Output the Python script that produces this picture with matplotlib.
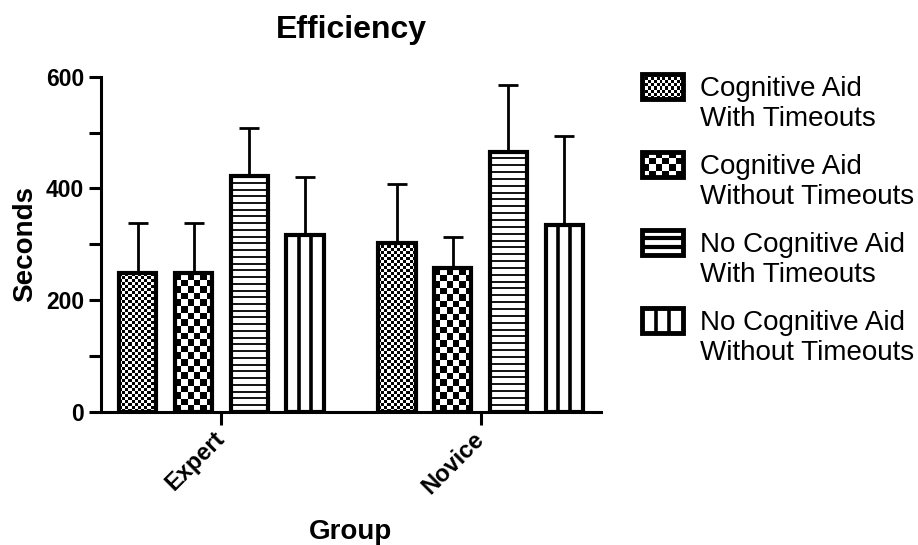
import numpy as np
import matplotlib
matplotlib.use("Agg")
from matplotlib import pyplot as plt
from matplotlib.patches import Rectangle

groups = ['Expert', 'Novice']
series = ['Cognitive Aid\nWith Timeouts', 'Cognitive Aid\nWithout Timeouts',
          'No Cognitive Aid\nWith Timeouts', 'No Cognitive Aid\nWithout Timeouts']
# mean seconds per group (Expert, Novice), one list per condition
ca_wt = [248, 303]
ca_wot = [248, 257]
nca_wt = [422, 466]
nca_wot = [317, 334]
# upper error (SD)
ca_wt_err = [90, 104]
ca_wot_err = [90, 56]
nca_wt_err = [87, 120]
nca_wot_err = [104, 160]

means = [ca_wt, ca_wot, nca_wt, nca_wot]
errors = [ca_wt_err, ca_wot_err, nca_wt_err, nca_wot_err]
patterns = ['fine', 'coarse', 'hlines', 'vlines']

plt.rcParams['font.family'] = ['Liberation Sans', 'DejaVu Sans']


def px_size(ax, x0, x1, y0, y1):
    (a, b), (c, d) = ax.transData.transform([(x0, y0), (x1, y1)])
    return abs(c - a), abs(d - b)


def fill_pattern(ax, kind, x0, x1, y0, y1, lw=1.3):
    w, h = px_size(ax, x0, x1, y0, y1)
    if kind in ('fine', 'coarse'):
        cell = 3.0 if kind == 'fine' else 6.5
        nx = max(1, int(round(w / cell)))
        ny = max(1, int(round(h / cell)))
        board = np.add.outer(np.arange(ny), np.arange(nx)) % 2
        ax.imshow(board, cmap='gray', interpolation='nearest', aspect='auto',
                  extent=(x0, x1, y0, y1), zorder=2)
    elif kind == 'hlines':
        n = max(2, int(h / 6.7))
        ys = np.linspace(y0, y1, n + 1)[1:-1]
        ax.hlines(ys, x0, x1, color='k', lw=lw, zorder=2)
    else:
        xs = [x0 + (x1 - x0) / 3, x0 + 2 * (x1 - x0) / 3]
        ax.vlines(xs, y0, y1, color='k', lw=2.6, zorder=2)


W, H = 918, 545
fig = plt.figure(figsize=(W / 100, H / 100), dpi=100)
ax = fig.add_axes([101 / W, 1 - 411.7 / H, 500 / W, 335 / H])
ax.set_xlim(-0.465, 1.465)
ax.set_ylim(0, 600)

x = np.arange(len(groups))
step = 0.215
width = 0.143
for i, (vals, errs, kind) in enumerate(zip(means, errors, patterns)):
    xs = x + (i - 1.5) * step
    for xc, v in zip(xs, vals):
        fill_pattern(ax, kind, xc - width / 2, xc + width / 2, 0, v)
    ax.bar(xs, vals, width, facecolor='none', edgecolor='k', linewidth=3, zorder=3)
    eb = ax.errorbar(xs, vals, yerr=[np.zeros(len(vals)), errs], fmt='none',
                     ecolor='k', elinewidth=2, capsize=7.5, capthick=2, zorder=1)
    eb.lines[1][0].set_visible(False)

for s in ['top', 'right']:
    ax.spines[s].set_visible(False)
for s in ['left', 'bottom']:
    ax.spines[s].set_linewidth(2.2)

ax.set_yticks([0, 200, 400, 600])
ax.set_yticks([100, 300, 500], minor=True)
ax.tick_params(axis='y', which='both', length=9, width=2.2, direction='out', pad=3)
ax.tick_params(axis='x', length=9, width=2.2, direction='out', pad=8)
ax.set_xticks(x)
ax.set_xticklabels(groups, rotation=45, ha='right', va='center',
                   rotation_mode='anchor', fontsize=17, fontweight='bold')
for lab in ax.get_yticklabels():
    lab.set_fontsize(16.5)
    lab.set_fontweight('bold')

ax.set_title('Efficiency', fontsize=23, fontweight='bold', pad=28)
ax.set_ylabel('Seconds', fontsize=20, fontweight='bold', labelpad=6)
ax.set_xlabel('Group', fontsize=20, fontweight='bold')
ax.xaxis.set_label_coords(0.5, -0.32)

# legend drawn by hand so the swatch sits next to the first text line
for i, (label, kind) in enumerate(zip(series, patterns)):
    top = 74 + 78 * i
    sax = fig.add_axes([642 / W, 1 - (top + 25) / H, 41 / W, 25 / H])
    sax.set_xlim(0, 1)
    sax.set_ylim(0, 1)
    sax.axis('off')
    fill_pattern(sax, kind, 0, 1, 0, 1, lw=3)
    sax.add_patch(Rectangle((0, 0), 1, 1, fill=False, ec='k', lw=3.5,
                            transform=sax.transAxes, clip_on=False, zorder=3))
    # baseline of the second text line
    fig.text(700 / W, 1 - (126 + 78 * i) / H, label, fontsize=20,
             va='baseline', ha='left', linespacing=1.2)

fig.savefig('out.png', dpi=100)
